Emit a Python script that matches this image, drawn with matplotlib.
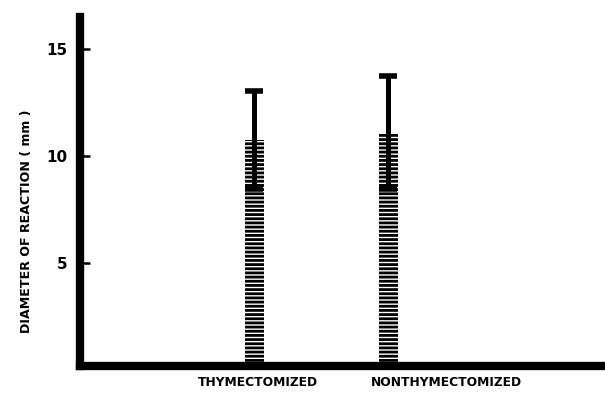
import matplotlib
matplotlib.use("Agg")
import matplotlib.pyplot as plt

# data
groups = ["THYMECTOMIZED", "NONTHYMECTOMIZED"]
diameter_mm = [10.75, 11.1]
diameter_err = [2.3, 2.65]
y_ticks = [5, 10, 15]

plt.rcParams["font.family"] = ["DejaVu Sans"]
plt.rcParams["hatch.linewidth"] = 2.0

fig = plt.figure(figsize=(6.05, 3.93), dpi=100)
# axes from pixel 80 to right edge, bottom spine at ~366px, top at ~17px
ax = fig.add_axes([0.132, 27 / 393, 0.868, 349 / 393])

xpos = [1, 2]
ax.bar(xpos, diameter_mm, width=0.142, color="white", edgecolor="black",
       linewidth=0, hatch="----", zorder=2)
ax.errorbar(xpos, diameter_mm, yerr=diameter_err, fmt="none", ecolor="black",
            elinewidth=3.6, capsize=6.5, capthick=4, zorder=3)

ax.set_xlim(-0.302, 3.616)
ax.set_ylim(0.2, 16.5)

ax.set_yticks(y_ticks)
ax.set_yticklabels([str(t) for t in y_ticks], fontsize=11, fontweight="bold")
ax.tick_params(axis="y", direction="in", length=7, width=1.8, pad=9)

# labels sit a bit off the bar centres in the original
ax.set_xticks([1.03, 2.43])
ax.set_xticklabels(groups, fontsize=8.8, fontweight="bold")
ax.tick_params(axis="x", length=0, pad=7)

fig.text(27 / 605, 1 - 221 / 393, "DIAMETER OF REACTION ( mm )", rotation=90,
         fontsize=9.1, fontweight="bold", ha="center", va="center")

for side in ["top", "right"]:
    ax.spines[side].set_visible(False)
for side in ["left", "bottom"]:
    ax.spines[side].set_linewidth(6)
    ax.spines[side].set_capstyle("projecting")

fig.savefig("out.png", dpi=100)
